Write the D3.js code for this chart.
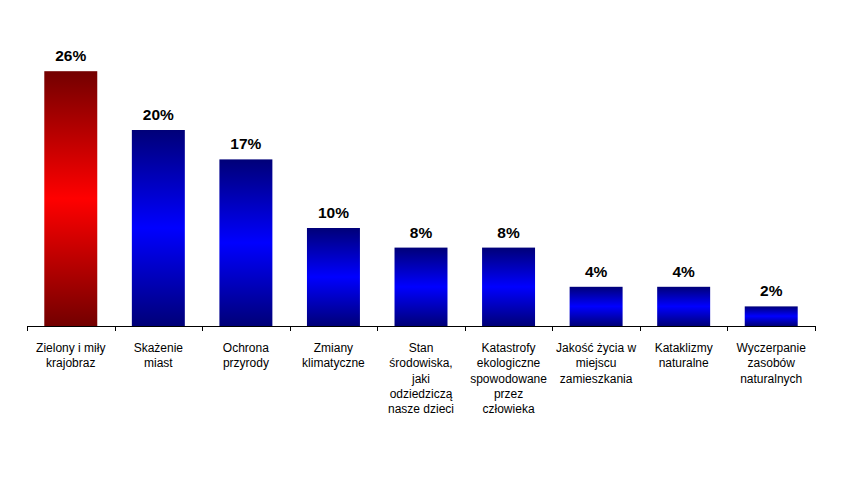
<!DOCTYPE html>
<html><head><meta charset="utf-8">
<script src="https://cdn.jsdelivr.net/npm/d3@7"></script>
<style>body{margin:0;background:#fff}svg{display:block}text{font-family:"Liberation Sans",Arial,sans-serif}</style>
</head><body><svg id="c" width="857" height="478"></svg>
<script>
const categories = [
  ["Zielony i miły","krajobraz"],
  ["Skażenie","miast"],
  ["Ochrona","przyrody"],
  ["Zmiany","klimatyczne"],
  ["Stan","środowiska,","jaki","odziedziczą","nasze dzieci"],
  ["Katastrofy","ekologiczne","spowodowane","przez","człowieka"],
  ["Jakość życia w","miejscu","zamieszkania"],
  ["Kataklizmy","naturalne"],
  ["Wyczerpanie","zasobów","naturalnych"]
];
const values = [26, 20, 17, 10, 8, 8, 4, 4, 2];
const valueLabels = ["26%","20%","17%","10%","8%","8%","4%","4%","2%"];

const svg = d3.select("#c");
const left = 27, right = 815, base = 326;
const x = d3.scaleBand().domain(d3.range(values.length)).range([left, right]).paddingInner(0.395).paddingOuter(0.1975);
const y = d3.scaleLinear().domain([0, 30]).range([base, base - 294]);

const defs = svg.append("defs");
function grad(id, dark, bright){
  const g = defs.append("linearGradient").attr("id", id).attr("x1",0).attr("y1",0).attr("x2",0).attr("y2",1);
  g.append("stop").attr("offset","0%").attr("stop-color",dark);
  g.append("stop").attr("offset","50%").attr("stop-color",bright);
  g.append("stop").attr("offset","100%").attr("stop-color",dark);
}
grad("gr","#730000","#ff0000");
grad("gb","#000078","#0000ff");

svg.selectAll("rect.bar").data(values).join("rect").attr("class","bar")
  .attr("x",(d,i)=>x(i)).attr("width",x.bandwidth())
  .attr("y",d=>y(d)).attr("height",d=>base-y(d))
  .attr("fill",(d,i)=>i===0?"url(#gr)":"url(#gb)");

svg.selectAll("text.val").data(values).join("text").attr("class","val")
  .attr("x",(d,i)=>x(i)+x.bandwidth()/2).attr("y",d=>y(d)-10)
  .attr("text-anchor","middle").attr("font-size","15.5px").attr("font-weight","bold")
  .text((d,i)=>valueLabels[i]);

// axis
const step = x.step();
const g = svg.append("g");
g.append("line").attr("x1",left).attr("x2",right).attr("y1",base+0.5).attr("y2",base+0.5).attr("stroke","#000");
d3.range(values.length+1).forEach(i=>{
  const xx = Math.round(left + i*step)+0.5;
  g.append("line").attr("x1",xx).attr("x2",xx).attr("y1",base).attr("y2",base+5).attr("stroke","#000");
});

svg.selectAll("text.cat").data(categories).join("text").attr("class","cat")
  .attr("x",(d,i)=>x(i)+x.bandwidth()/2).attr("y",352)
  .attr("text-anchor","middle").attr("font-size","12px").attr("fill","#000")
  .each(function(d){
    const t = d3.select(this);
    d.forEach((line,k)=>t.append("tspan").attr("x",t.attr("x")).attr("dy",k===0?0:15.3).text(line));
  });
</script></body></html>
